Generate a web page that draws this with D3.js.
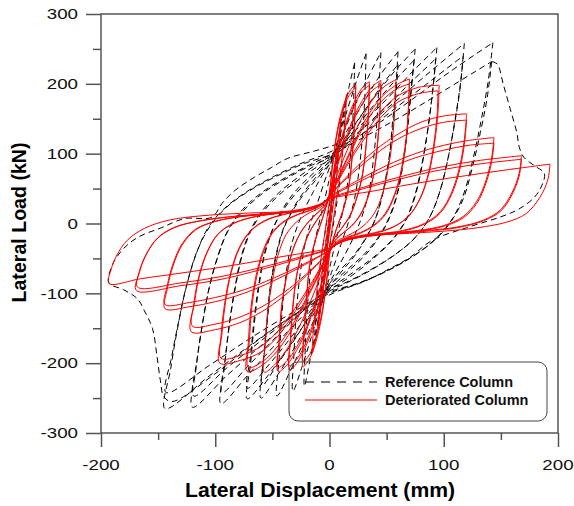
<!DOCTYPE html>
<html><head><meta charset="utf-8">
<script src="https://cdn.jsdelivr.net/npm/d3@7"></script>
<style>body{margin:0;background:#fff}</style>
</head><body><svg id="c" width="574" height="506"></svg>
<script>
const xTicks = [-200,-100,0,100,200];
const xMinor = [-150,-50,50,150];
const yTicks = [-300,-200,-100,0,100,200,300];
const yMinor = [-250,-150,-50,50,150,250];
const seriesNames = ["Reference Column","Deteriorated Column"];
const xTitle = "Lateral Displacement (mm)";
const yTitle = "Lateral Load (kN)";

// Reference column (black dashed) cycles: [displacement mm, load kN]
const referenceLoops = [
 [[4,55],[2,22],[0,-5],[-2,-30],[-4,-55],[-2,-22],[0,5],[2,30],[4,55]],
 [[8,110],[6,65],[3,25],[0,-10],[-3,-45],[-6,-80],[-8,-108],[-6,-64],[-3,-24],[0,12],[3,48],[6,82],[8,110]],
 [[14,175],[12,115],[9,60],[5,15],[1,-25],[-3,-65],[-7,-105],[-10,-140],[-13,-170],[-11,-112],[-8,-58],[-4,-14],[0,27],[4,68],[8,108],[11,142],[14,175]],
 [[22,230],[21,170],[19,110],[16,60],[12,20],[7,-15],[2,-50],[0,-65],[-6,-110],[-12,-155],[-17,-195],[-22,-233],[-21,-172],[-19,-112],[-16,-60],[-12,-20],[-7,15],[-2,50],[0,65],[6,110],[12,155],[17,195],[22,230]],
 [[32,243],[31,185],[29,128],[26,78],[22,36],[17,4],[10,-30],[4,-60],[0,-78],[-8,-120],[-16,-163],[-24,-205],[-32,-240],[-31,-183],[-29,-126],[-26,-76],[-22,-34],[-17,-2],[-10,32],[-4,62],[0,80],[8,122],[16,165],[24,206],[32,243]],
 [[45,245],[43,190],[41,135],[38,85],[34,42],[28,8],[21,-20],[13,-46],[5,-70],[0,-85],[-10,-125],[-22,-168],[-34,-210],[-46,-247],[-44,-192],[-42,-137],[-39,-86],[-35,-42],[-29,-8],[-22,20],[-14,46],[-6,70],[0,85],[11,125],[22,168],[34,210],[45,245]],
 [[60,246],[58,195],[55,142],[52,90],[47,45],[41,10],[33,-18],[23,-44],[12,-66],[3,-84],[0,-90],[-15,-133],[-30,-176],[-45,-216],[-60,-250],[-58,-198],[-55,-144],[-52,-92],[-47,-46],[-41,-10],[-33,18],[-23,44],[-12,66],[-3,84],[0,90],[15,132],[30,174],[45,214],[60,246]],
 [[60,228],[58,180],[55,130],[51,82],[46,40],[40,6],[32,-20],[22,-44],[11,-64],[3,-80],[0,-86],[-15,-125],[-30,-165],[-45,-200],[-59,-232],[-57,-184],[-54,-133],[-51,-84],[-46,-42],[-40,-7],[-32,19],[-22,43],[-11,64],[-3,80],[0,85],[15,123],[30,160],[45,196],[60,228]],
 [[75,250],[72,198],[69,145],[65,92],[60,46],[53,10],[44,-18],[32,-44],[18,-66],[6,-84],[0,-93],[-18,-135],[-36,-178],[-54,-218],[-72,-251],[-69,-200],[-66,-146],[-62,-93],[-57,-46],[-50,-10],[-42,18],[-31,44],[-18,66],[-6,84],[0,93],[19,135],[38,178],[57,218],[75,250]],
 [[74,234],[71,185],[68,135],[64,86],[59,42],[52,8],[43,-19],[31,-43],[17,-64],[6,-80],[0,-88],[-18,-128],[-36,-168],[-54,-204],[-72,-236],[-69,-188],[-66,-137],[-62,-88],[-57,-44],[-50,-9],[-41,18],[-30,42],[-17,63],[-6,80],[0,88],[19,128],[38,168],[57,204],[74,234]],
 [[94,252],[91,200],[87,145],[82,92],[76,45],[68,8],[57,-20],[42,-45],[25,-68],[10,-85],[0,-95],[-25,-135],[-50,-178],[-73,-220],[-95,-258],[-92,-205],[-88,-148],[-83,-94],[-77,-46],[-69,-9],[-58,20],[-43,46],[-26,68],[-10,86],[0,96],[25,137],[50,178],[73,218],[94,252]],
 [[93,236],[90,186],[86,135],[81,86],[75,42],[67,6],[56,-21],[41,-45],[24,-66],[10,-82],[0,-91],[-25,-128],[-50,-168],[-73,-207],[-94,-242],[-91,-192],[-87,-138],[-82,-88],[-76,-43],[-68,-8],[-57,19],[-42,44],[-25,65],[-10,82],[0,91],[25,130],[50,168],[73,205],[93,236]],
 [[118,258],[115,205],[110,150],[104,95],[97,48],[88,10],[75,-20],[57,-45],[35,-68],[15,-85],[0,-97],[-30,-135],[-60,-175],[-90,-218],[-120,-263],[-117,-210],[-112,-152],[-106,-97],[-98,-48],[-89,-10],[-76,20],[-58,46],[-36,68],[-15,86],[0,98],[30,137],[60,178],[90,220],[118,258]],
 [[117,240],[114,190],[109,138],[103,88],[96,43],[87,7],[74,-22],[56,-46],[34,-68],[15,-84],[0,-94],[-30,-130],[-60,-168],[-90,-207],[-119,-247],[-116,-196],[-111,-142],[-105,-90],[-97,-44],[-88,-8],[-75,19],[-57,45],[-35,67],[-15,84],[0,94],[30,130],[60,168],[90,206],[117,240]],
 [[143,259],[139,205],[133,150],[126,95],[118,45],[108,8],[94,-20],[75,-45],[50,-68],[25,-86],[0,-100],[-35,-135],[-70,-175],[-105,-218],[-144,-265],[-139,-208],[-133,-150],[-126,-95],[-117,-45],[-107,-8],[-93,20],[-73,45],[-48,68],[-22,88],[0,102],[35,135],[70,175],[106,218],[143,259]],
 [[142,232],[138,180],[132,130],[125,80],[117,35],[106,2],[92,-24],[72,-48],[48,-70],[24,-86],[0,-98],[-35,-130],[-70,-165],[-105,-203],[-143,-242],[-138,-190],[-132,-140],[-125,-88],[-116,-40],[-105,-5],[-91,22],[-71,46],[-46,68],[-22,86],[0,98],[35,128],[70,160],[105,195],[142,232]],
 [[142,232],[147,228],[152,200],[158,165],[164,130],[166,110],[170,95],[180,82],[188,72],[186,55],[179,37],[165,20],[149,9],[120,-6],[90,-24],[70,-49],[50,-67],[32,-82],[3,-100],[-30,-130],[-65,-170],[-100,-215],[-138,-255],[-145,-248],[-148,-225],[-151,-190],[-155,-150],[-162,-125],[-168,-108],[-180,-95],[-193,-85],[-191,-63],[-182,-39],[-168,-20],[-147,-6],[-127,7],[-103,9],[-94,29],[-83,47],[-66,66],[-51,80],[-37,93],[-15,103],[0,110],[20,122]]
];

// Deteriorated column (red solid) cycles: [displacement mm, load kN]
const deterioratedLoops = [
 [[3,55],[1,20],[-1,-15],[-3,-55],[-1,-20],[1,15],[3,55]],
 [[6,105],[4,60],[1,15],[-2,-30],[-4,-65],[-6,-105],[-4,-60],[-1,-15],[2,30],[4,65],[6,105]],
 [[10,150],[8,100],[5,50],[1,0],[-3,-50],[-6,-95],[-10,-150],[-8,-100],[-5,-50],[-1,0],[3,50],[6,95],[10,150]],
 [[15,185],[13,130],[10,80],[6,35],[2,-10],[-2,-55],[-6,-100],[-10,-145],[-15,-185],[-13,-130],[-10,-80],[-6,-35],[-2,10],[2,55],[6,100],[10,145],[15,185]],
 [[23,200],[22,150],[20,100],[17,55],[12,20],[6,-8],[2,-30],[0,-45],[-3,-90],[-7,-135],[-12,-170],[-17,-192],[-23,-205],[-22,-155],[-20,-105],[-17,-58],[-12,-22],[-6,8],[-2,30],[0,45],[3,90],[7,135],[12,168],[17,188],[23,200]],
 [[23,195],[22,148],[20,98],[17,54],[12,19],[6,-8],[2,-30],[0,-44],[-3,-88],[-7,-131],[-12,-165],[-17,-186],[-23,-198],[-22,-150],[-20,-102],[-17,-56],[-12,-21],[-6,8],[-2,30],[0,44],[3,88],[7,131],[12,164],[17,183],[23,195]],
 [[35,203],[34,158],[32,112],[29,72],[24,38],[18,12],[11,-6],[4,-22],[0,-40],[-5,-87],[-11,-128],[-18,-165],[-25,-190],[-30,-203],[-35,-210],[-34,-165],[-32,-120],[-29,-78],[-24,-42],[-18,-14],[-11,5],[-4,22],[0,40],[5,85],[11,125],[18,160],[25,185],[30,197],[35,203]],
 [[35,198],[34,155],[32,110],[29,70],[24,37],[18,11],[11,-6],[4,-22],[0,-40],[-5,-85],[-11,-125],[-18,-160],[-25,-185],[-30,-197],[-35,-204],[-34,-160],[-32,-116],[-29,-76],[-24,-41],[-18,-14],[-11,5],[-4,22],[0,40],[5,83],[11,122],[18,156],[25,180],[30,192],[35,198]],
 [[45,205],[44,160],[42,115],[39,75],[34,40],[27,13],[19,-4],[10,-16],[3,-28],[0,-40],[-6,-82],[-14,-123],[-22,-160],[-31,-188],[-38,-204],[-45,-212],[-44,-168],[-42,-122],[-38,-80],[-33,-43],[-26,-15],[-18,3],[-10,16],[-3,28],[0,40],[6,80],[14,120],[22,155],[31,182],[38,197],[45,205]],
 [[45,199],[44,156],[42,112],[39,73],[34,39],[27,12],[19,-4],[10,-16],[3,-28],[0,-40],[-6,-80],[-14,-120],[-22,-156],[-31,-183],[-38,-198],[-45,-206],[-44,-164],[-42,-119],[-38,-78],[-33,-42],[-26,-15],[-18,3],[-10,16],[-3,28],[0,40],[6,78],[14,117],[22,151],[31,177],[38,191],[45,199]],
 [[58,206],[57,162],[55,118],[51,76],[46,40],[39,14],[30,-3],[20,-14],[10,-22],[3,-30],[0,-40],[-8,-76],[-18,-117],[-28,-153],[-38,-182],[-48,-202],[-57,-213],[-56,-170],[-54,-125],[-50,-82],[-45,-45],[-38,-16],[-29,2],[-19,14],[-9,22],[-3,30],[0,40],[8,75],[18,115],[28,150],[38,178],[48,196],[58,206]],
 [[70,207],[69,165],[67,120],[63,78],[57,42],[49,15],[39,-2],[27,-13],[15,-20],[6,-28],[0,-40],[-10,-76],[-21,-112],[-33,-152],[-46,-183],[-59,-203],[-72,-212],[-71,-170],[-69,-124],[-65,-80],[-59,-43],[-51,-15],[-41,2],[-28,13],[-15,20],[-6,28],[0,40],[10,75],[20,110],[32,150],[45,180],[58,198],[70,207]],
 [[70,200],[69,160],[67,116],[63,75],[57,40],[49,13],[39,-3],[27,-14],[15,-21],[6,-29],[0,-40],[-10,-74],[-21,-109],[-33,-147],[-46,-177],[-58,-197],[-71,-206],[-70,-166],[-68,-120],[-64,-78],[-58,-42],[-50,-14],[-40,2],[-27,13],[-15,20],[-6,28],[0,40],[10,73],[20,107],[32,145],[45,174],[58,192],[70,200]],
 [[96,198],[95,160],[92,115],[87,72],[80,38],[70,12],[57,-4],[40,-13],[22,-19],[10,-25],[3,-32],[0,-40],[-15,-86],[-30,-126],[-45,-161],[-60,-184],[-78,-196],[-96,-200],[-95,-162],[-92,-117],[-87,-74],[-80,-38],[-70,-12],[-57,4],[-40,13],[-22,19],[-10,25],[-3,32],[0,40],[15,85],[30,125],[45,160],[60,183],[78,195],[96,198]],
 [[95,190],[94,152],[91,110],[86,68],[79,35],[69,10],[56,-5],[40,-14],[22,-20],[10,-26],[3,-33],[0,-40],[-15,-83],[-30,-121],[-45,-154],[-60,-176],[-78,-189],[-95,-193],[-94,-156],[-91,-112],[-86,-70],[-79,-36],[-69,-11],[-56,4],[-40,13],[-22,19],[-10,25],[-3,32],[0,39],[15,82],[30,120],[45,152],[60,174],[78,186],[95,190]],
 [[120,157],[118,120],[114,82],[107,45],[97,17],[83,0],[64,-10],[42,-15],[22,-20],[10,-26],[3,-33],[0,-40],[-20,-74],[-40,-104],[-60,-127],[-80,-143],[-100,-152],[-121,-155],[-119,-118],[-115,-80],[-108,-44],[-98,-16],[-84,0],[-65,10],[-43,15],[-23,20],[-10,26],[-3,33],[0,40],[20,75],[40,105],[60,128],[80,145],[100,154],[120,157]],
 [[120,148],[118,113],[114,77],[107,42],[97,15],[83,-1],[64,-11],[42,-16],[22,-21],[10,-27],[3,-34],[0,-40],[-20,-72],[-40,-99],[-60,-120],[-80,-135],[-100,-144],[-120,-147],[-118,-112],[-114,-76],[-107,-41],[-97,-14],[-83,1],[-64,10],[-42,15],[-22,20],[-10,26],[-3,33],[0,40],[20,72],[40,99],[60,121],[80,136],[100,145],[120,148]],
 [[144,123],[142,95],[137,62],[129,32],[117,10],[100,-3],[77,-10],[50,-14],[28,-18],[12,-24],[4,-31],[0,-38],[-25,-62],[-50,-83],[-75,-100],[-100,-112],[-122,-119],[-144,-122],[-142,-94],[-137,-61],[-129,-31],[-117,-9],[-100,3],[-77,10],[-50,14],[-28,18],[-12,24],[-4,31],[0,38],[25,62],[50,83],[75,100],[100,112],[122,119],[144,123]],
 [[144,115],[142,89],[137,58],[129,29],[117,8],[100,-4],[77,-11],[50,-15],[28,-19],[12,-25],[4,-32],[0,-38],[-25,-60],[-50,-79],[-75,-95],[-100,-106],[-122,-113],[-144,-116],[-142,-89],[-137,-58],[-129,-29],[-117,-8],[-100,3],[-77,10],[-50,14],[-28,18],[-12,24],[-4,31],[0,37],[25,59],[50,78],[75,94],[100,105],[122,112],[144,115]],
 [[168,97],[166,72],[160,45],[150,20],[135,5],[112,-5],[85,-10],[55,-14],[30,-18],[14,-23],[5,-30],[0,-36],[-30,-52],[-60,-66],[-95,-80],[-130,-89],[-169,-96],[-167,-72],[-161,-46],[-151,-22],[-136,-6],[-113,4],[-85,10],[-55,14],[-30,18],[-14,23],[-5,30],[0,36],[30,52],[60,66],[95,80],[130,90],[168,97]],
 [[168,92],[166,68],[160,42],[150,18],[135,4],[112,-6],[85,-11],[55,-15],[30,-19],[14,-24],[5,-31],[0,-36],[-30,-50],[-60,-63],[-95,-76],[-130,-85],[-168,-91],[-166,-68],[-160,-43],[-150,-20],[-135,-5],[-112,4],[-85,10],[-55,14],[-30,18],[-14,23],[-5,30],[0,35],[30,50],[60,63],[95,76],[130,85],[168,92]],
 [[193,85],[191,62],[184,37],[172,14],[155,2],[130,-6],[100,-11],[70,-14],[40,-17],[20,-22],[8,-28],[0,-35],[-40,-47],[-85,-60],[-130,-71],[-165,-79],[-193,-86],[-191,-65],[-186,-45],[-177,-24],[-162,-7],[-140,5],[-105,12],[-70,15],[-40,17],[-20,22],[-8,28],[0,35],[40,47],[85,60],[130,71],[165,79],[193,85]]
];

const svg = d3.select("#c");
const L = 101, R = 558, T = 14, B = 433;
const x = d3.scaleLinear().domain([-200,200]).range([L,R]);
const y = d3.scaleLinear().domain([-300,300]).range([B,T]);
const axisColor = "#555";
const font = "'Liberation Sans', Arial, sans-serif";

svg.append("defs").append("clipPath").attr("id","clip")
  .append("rect").attr("x",L).attr("y",T).attr("width",R-L).attr("height",B-T);

const line = d3.line().x(d=>x(d[0])).y(d=>y(d[1])).curve(d3.curveCatmullRom.alpha(0.5));
const plot = svg.append("g").attr("clip-path","url(#clip)");

plot.selectAll("path.ref").data(referenceLoops).join("path")
  .attr("class","ref").attr("d",line).attr("fill","none")
  .attr("stroke","#000").attr("stroke-width",1).attr("stroke-dasharray","6,4");
plot.selectAll("path.det").data(deterioratedLoops).join("path")
  .attr("class","det").attr("d",line).attr("fill","none")
  .attr("stroke","#ff0000").attr("stroke-width",1);

// frame
svg.append("path").attr("d",`M${L},${B}V${T}H${R}V${B}H${L}`)
  .attr("fill","none").attr("stroke",axisColor).attr("stroke-width",1.5);

// axes ticks
function styleAxis(g){ g.select(".domain").remove(); g.selectAll("line").attr("stroke",axisColor).attr("stroke-width",1.5); g.selectAll("text").remove(); }
svg.append("g").attr("transform",`translate(0,${B})`).call(d3.axisBottom(x).tickValues(xTicks).tickSize(14)).call(styleAxis);
svg.append("g").attr("transform",`translate(0,${B})`).call(d3.axisBottom(x).tickValues(xMinor).tickSize(7)).call(styleAxis);
svg.append("g").attr("transform",`translate(${L},0)`).call(d3.axisLeft(y).tickValues(yTicks).tickSize(15)).call(styleAxis);
svg.append("g").attr("transform",`translate(${L},0)`).call(d3.axisLeft(y).tickValues(yMinor).tickSize(8)).call(styleAxis);

// tick labels
svg.append("g").selectAll("text").data(xTicks).join("text")
  .attr("transform",d=>`translate(${x(d)},470) scale(1.25,1)`)
  .attr("text-anchor","middle").attr("font-family",font).attr("font-size",15).attr("fill","#111")
  .text(d=>d);
svg.append("g").selectAll("text").data(yTicks).join("text")
  .attr("transform",d=>`translate(78,${y(d)+5.3}) scale(1.25,1)`)
  .attr("text-anchor","end").attr("font-family",font).attr("font-size",15).attr("fill","#111")
  .text(d=>d);

// titles
svg.append("text").attr("x",320).attr("y",497).attr("text-anchor","middle")
  .attr("font-family",font).attr("font-weight","bold").attr("font-size",20)
  .attr("textLength",270).attr("lengthAdjust","spacingAndGlyphs").text(xTitle);
svg.append("text").attr("transform",`translate(26,${(T+B)/2 - 1}) rotate(-90)`).attr("text-anchor","middle")
  .attr("font-family",font).attr("font-weight","bold").attr("font-size",20)
  .attr("textLength",160).attr("lengthAdjust","spacingAndGlyphs").text(yTitle);

// legend
const lg = svg.append("g");
lg.append("rect").attr("x",289).attr("y",362).attr("width",258).attr("height",59).attr("rx",9)
  .attr("fill","none").attr("stroke","#444").attr("stroke-width",1);
lg.append("line").attr("x1",305).attr("x2",377).attr("y1",382).attr("y2",382)
  .attr("stroke","#000").attr("stroke-width",1).attr("stroke-dasharray","9,7");
lg.append("line").attr("x1",305).attr("x2",377).attr("y1",400).attr("y2",400)
  .attr("stroke","#ff0000").attr("stroke-width",1);
lg.selectAll("text").data(seriesNames).join("text")
  .attr("x",385).attr("y",(d,i)=>387+i*18).attr("font-family",font).attr("font-weight","bold")
  .attr("font-size",14.5).attr("fill","#111").text(d=>d);
</script></body></html>
